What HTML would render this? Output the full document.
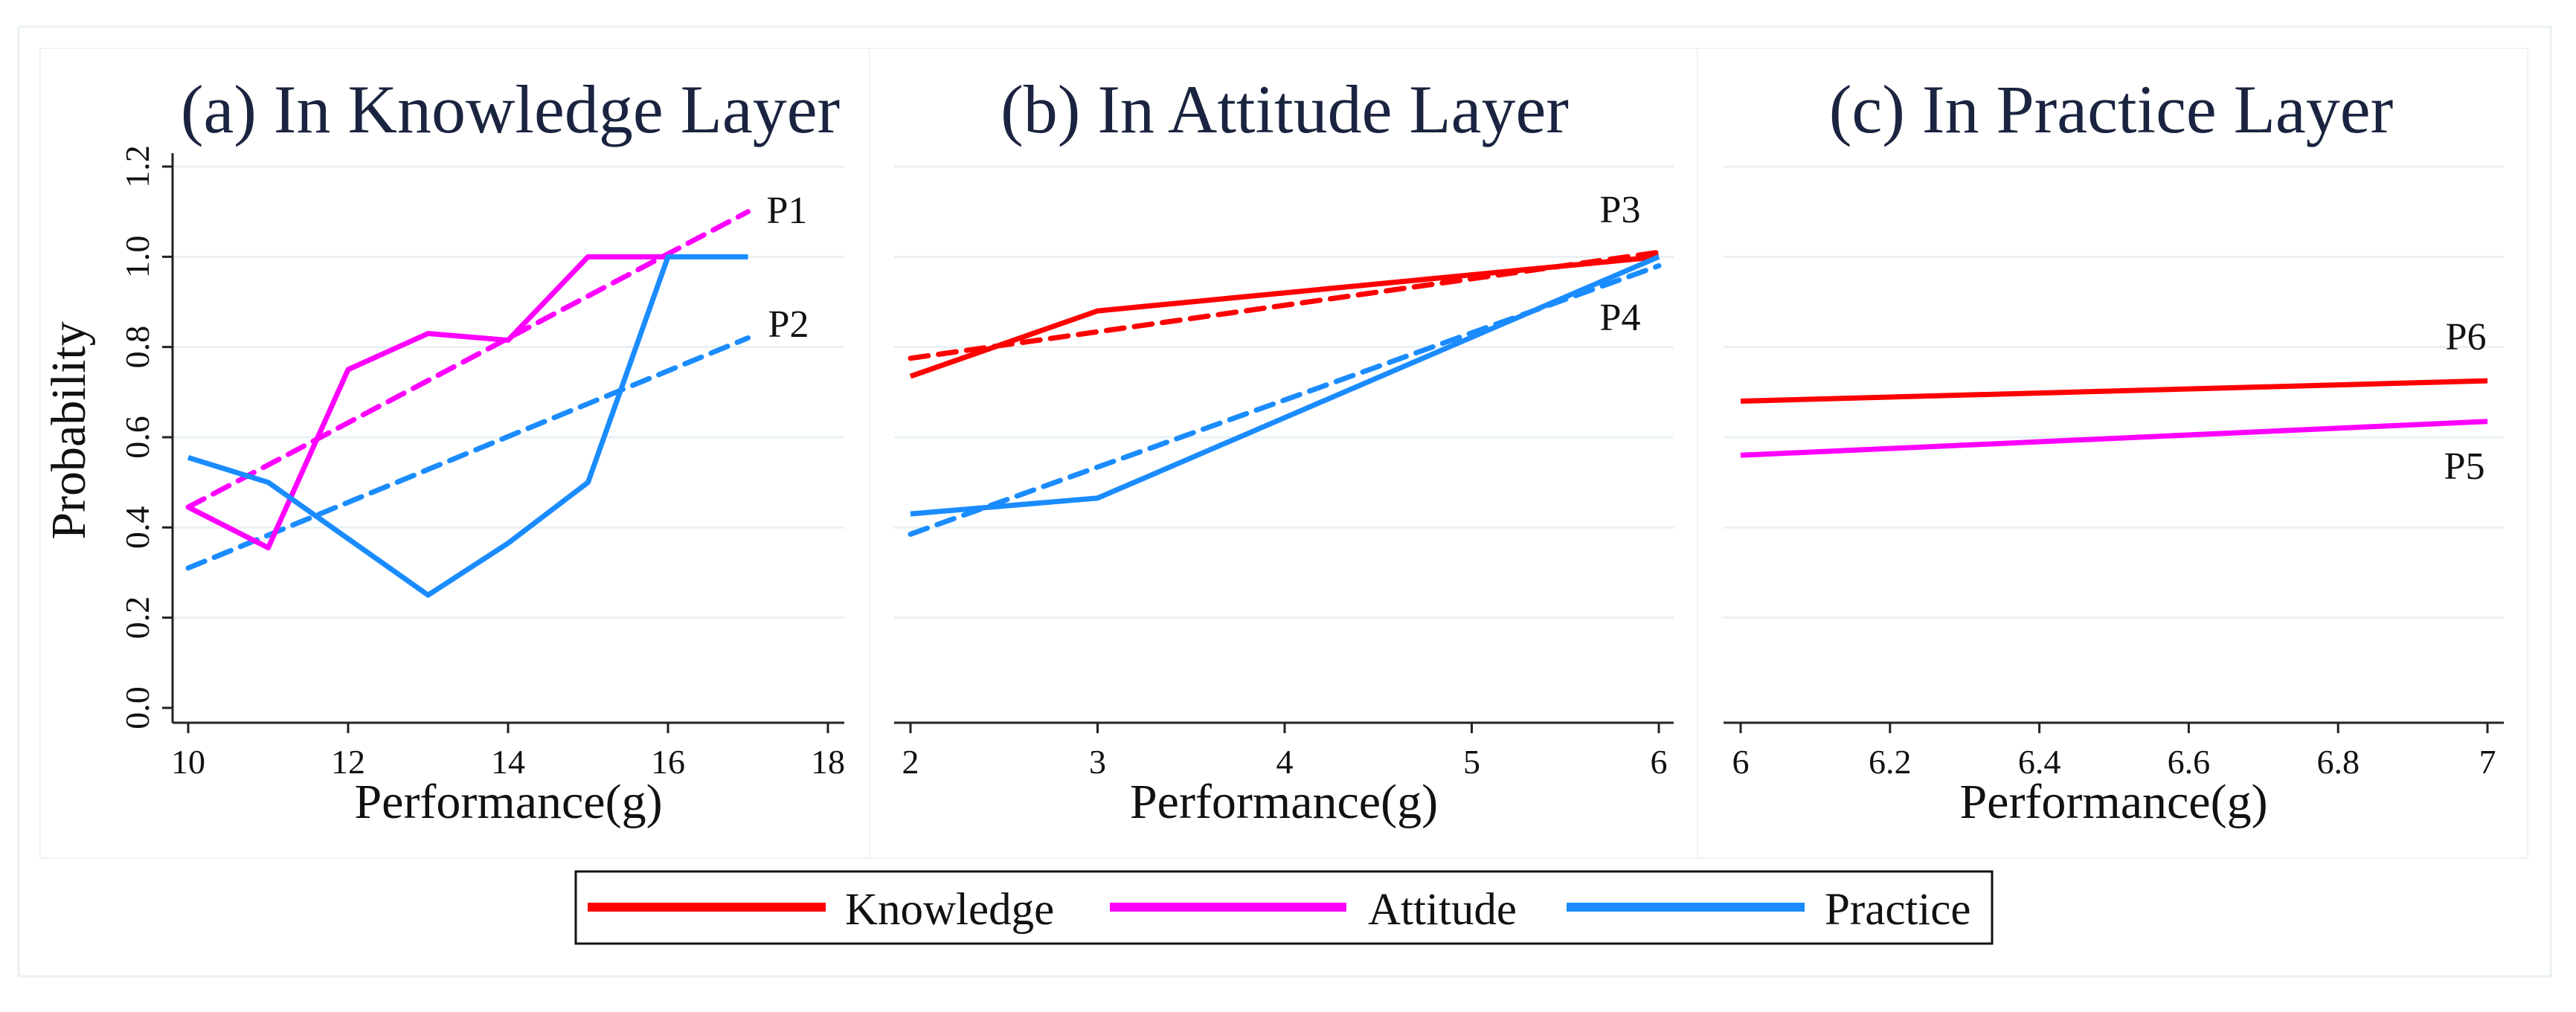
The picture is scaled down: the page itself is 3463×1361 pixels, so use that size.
<!DOCTYPE html>
<html><head><meta charset="utf-8"><style>
html,body{margin:0;padding:0;background:#fff;}
svg{display:block;font-family:"Liberation Serif",serif;}
</style></head><body>
<svg id="chart" width="3463" height="1361" viewBox="0 0 3463 1361" xmlns="http://www.w3.org/2000/svg">
<rect x="25" y="36" width="3404" height="1277" fill="#fff" stroke="#eaf0f3" stroke-width="3"/>
<rect x="54" y="65" width="1115" height="1089" fill="#fff" stroke="#eef3f6" stroke-width="2"/>
<rect x="1169" y="65" width="1113" height="1089" fill="#fff" stroke="#eef3f6" stroke-width="2"/>
<rect x="2282" y="65" width="1116" height="1089" fill="#fff" stroke="#eef3f6" stroke-width="2"/>
<g id="plots"></g>
<g>
<rect x="774" y="1172" width="1904" height="97" fill="#fff" stroke="#111" stroke-width="3"/>
<line x1="790" y1="1220" x2="1110" y2="1220" stroke="#ff0000" stroke-width="12"/>
<text x="1136" y="1243" font-size="61" fill="#111">Knowledge</text>
<line x1="1492" y1="1220" x2="1810" y2="1220" stroke="#ff00ff" stroke-width="12"/>
<text x="1839" y="1243" font-size="61" fill="#111">Attitude</text>
<line x1="2106" y1="1220" x2="2426" y2="1220" stroke="#1a8cff" stroke-width="12"/>
<text x="2453" y="1243" font-size="61" fill="#111">Practice</text>
</g>
</svg>
<script>
// Panel (a) data
const aX = [10, 11, 12, 13, 14, 15, 16, 17];
const aAttitude = [0.445, 0.355, 0.75, 0.83, 0.815, 1.0, 1.0];
const aPractice = [0.555, 0.5, 0.375, 0.25, 0.365, 0.5, 1.0, 1.0];
const aFitX = [10, 17];
const aAttitudeFit = [0.445, 1.10];
const aPracticeFit = [0.31, 0.82];
const aXTicks = [10, 12, 14, 16, 18];
// Panel (b) data
const bX = [2, 3, 6];
const bKnowledge = [0.735, 0.88, 1.0];
const bPractice = [0.43, 0.465, 1.0];
const bFitX = [2, 6];
const bKnowledgeFit = [0.775, 1.01];
const bPracticeFit = [0.385, 0.98];
const bXTicks = [2, 3, 4, 5, 6];
// Panel (c) data
const cX = [6, 7];
const cKnowledge = [0.68, 0.725];
const cAttitude = [0.56, 0.635];
const cXTicks = [6, 6.2, 6.4, 6.6, 6.8, 7];
const cXTickLabels = ["6", "6.2", "6.4", "6.6", "6.8", "7"];
const yTicks = [0, 0.2, 0.4, 0.6, 0.8, 1.0, 1.2];
const yTickLabels = ["0.0", "0.2", "0.4", "0.6", "0.8", "1.0", "1.2"];

const NS = "http://www.w3.org/2000/svg";
const root = document.getElementById("plots");
const RED = "#ff0000", MAG = "#ff00ff", BLUE = "#1a8cff";
function yScale(v){ return 952 - v * (952 - 224) / 1.2; }
function mk(tag, attrs, parent){
  const e = document.createElementNS(NS, tag);
  for (const k in attrs) e.setAttribute(k, attrs[k]);
  (parent || root).appendChild(e);
  return e;
}
function makePanel(p){
  const g = mk("g", {});
  
  
  const xs = v => p.px0 + (v - p.x0) * (p.px1 - p.px0) / (p.x1 - p.x0);
  yTicks.forEach((t, i) => {
    if (t === 0) return;
    const l = mk("line", {x1: p.gx0, x2: p.gx1, y1: yScale(t), y2: yScale(t), stroke: "#eaf1f3", "stroke-width": 3}, g);
    
    
  });
  const xa = mk("line", {x1: p.gx0, x2: p.gx1, y1: 972, y2: 972, stroke: "#222", "stroke-width": 3}, g);
  
  
  p.ticks.forEach((t, i) => {
    const x = xs(t);
    const tk = mk("line", {x1: x, x2: x, y1: 972, y2: 986, stroke: "#222", "stroke-width": 3}, g);
    
    
    const tx = mk("text", {x: x, y: 1040, "font-size": 46, "text-anchor": "middle", fill: "#111"}, g);
    tx.textContent = p.tickLabels ? p.tickLabels[i] : String(t);
    
    
  });
  const at = mk("text", {x: (p.gx0 + p.gx1) / 2 + p.titleDx, y: 1100, "font-size": 66, "text-anchor": "middle", fill: "#111"}, g);
  at.textContent = "Performance(g)";
  
  
  const tt = mk("text", {x: p.titleX, y: 178, "font-size": 92, "text-anchor": "middle", fill: "#1a2440"}, g);
  tt.textContent = p.title;
  
  
  p.series.forEach(s => {
    const pts = s.ys.map((v, i) => xs(s.xs[i]) + "," + yScale(v)).join(" ");
    const pl = mk("polyline", {points: pts, fill: "none", stroke: s.color, "stroke-width": 7, "stroke-linejoin": "round", "stroke-linecap": s.dash ? "round" : "butt", "stroke-dasharray": s.dash ? "24,14" : "none"}, g);
    
    
  });
  p.labels.forEach(l => {
    const t = mk("text", {x: l.x, y: l.y, "font-size": 52, "text-anchor": "middle", fill: "#111"}, g);
    t.textContent = l.t;
    
    
  });
  return g;
}
const ga = makePanel({name: "panel-a", px0: 253, px1: 1113, x0: 10, x1: 18, gx0: 232, gx1: 1135, ticks: aXTicks, titleX: 686, titleDx: 0, title: "(a) In Knowledge Layer",
  series: [
    {name: "attitude-fit-a", xs: aFitX, ys: aAttitudeFit, color: MAG, dash: true},
    {name: "practice-fit-a", xs: aFitX, ys: aPracticeFit, color: BLUE, dash: true},
    {name: "attitude-line-a", xs: aX, ys: aAttitude, color: MAG},
    {name: "practice-line-a", xs: aX, ys: aPractice, color: BLUE}],
  labels: [{t: "P1", x: 1058, y: 300}, {t: "P2", x: 1060, y: 453}]});
const ya = mk("line", {x1: 232, x2: 232, y1: 206, y2: 972, stroke: "#222", "stroke-width": 3}, ga);


yTicks.forEach((t, i) => {
  const y = yScale(t);
  const tk = mk("line", {x1: 218, x2: 232, y1: y, y2: y, stroke: "#222", "stroke-width": 3}, ga);
  
  
  const tx = mk("text", {x: 0, y: 0, "font-size": 46, "text-anchor": "middle", fill: "#111", transform: "translate(200," + y + ") rotate(-90)"}, ga);
  tx.textContent = yTickLabels[i];
  
  
});
const yt = mk("text", {x: 0, y: 0, "font-size": 66, "text-anchor": "middle", fill: "#111", transform: "translate(114,579) rotate(-90)"}, ga);
yt.textContent = "Probability";



makePanel({name: "panel-b", px0: 1224, px1: 2230, x0: 2, x1: 6, gx0: 1202, gx1: 2250, ticks: bXTicks, titleX: 1727, titleDx: 0, title: "(b) In Attitude Layer",
  series: [
    {name: "knowledge-fit-b", xs: bFitX, ys: bKnowledgeFit, color: RED, dash: true},
    {name: "practice-fit-b", xs: bFitX, ys: bPracticeFit, color: BLUE, dash: true},
    {name: "knowledge-line-b", xs: bX, ys: bKnowledge, color: RED},
    {name: "practice-line-b", xs: bX, ys: bPractice, color: BLUE}],
  labels: [{t: "P3", x: 2178, y: 299}, {t: "P4", x: 2178, y: 444}]});
makePanel({name: "panel-c", px0: 2340, px1: 3344, x0: 6, x1: 7, gx0: 2317, gx1: 3366, ticks: cXTicks, tickLabels: cXTickLabels, titleX: 2838, titleDx: 0, title: "(c) In Practice Layer",
  series: [
    {name: "knowledge-line-c", xs: cX, ys: cKnowledge, color: RED},
    {name: "attitude-line-c", xs: cX, ys: cAttitude, color: MAG}],
  labels: [{t: "P6", x: 3315, y: 470}, {t: "P5", x: 3313, y: 644}]});
</script>
</body></html>
